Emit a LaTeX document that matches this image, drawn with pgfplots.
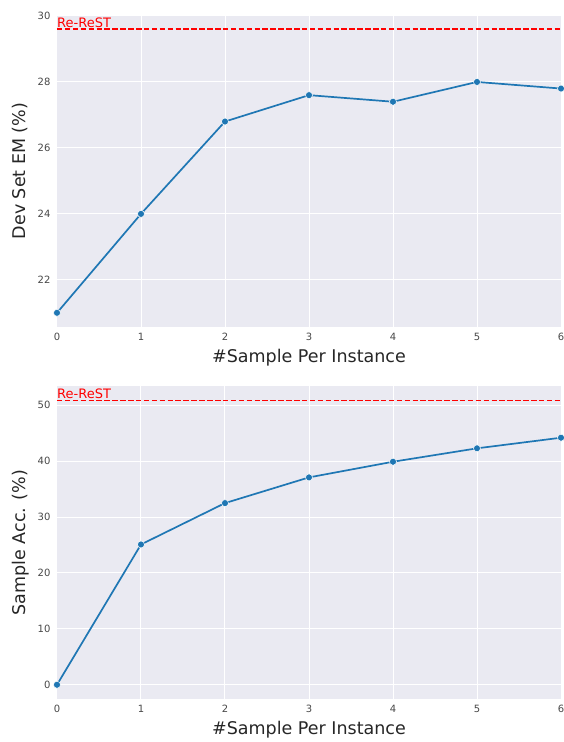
\documentclass[border=0pt]{standalone}
\usepackage{fontspec}
\setmainfont{DejaVu Sans}
\usepackage{pgfplots}
\pgfplotsset{compat=1.18}
\definecolor{sbbg}{HTML}{EAEAF2}
\definecolor{sbblue}{HTML}{1F77B4}
\definecolor{txt}{HTML}{262626}
\pgfplotsset{
  sbstyle/.style={
    scale only axis,
    width=504pt,
    xmin=0, xmax=6,
    xtick={0,1,2,3,4,5,6},
    axis background/.style={fill=sbbg},
    axis line style={draw=none},
    major tick length=0pt,
    grid=major,
    major grid style={white, line width=1pt},
    tick label style={font=\fontsize{10}{12}\selectfont, text=txt!85},
    /pgf/number format/assume math mode=true,
    xticklabel style={yshift=-3pt},
    yticklabel style={xshift=-3pt},
    label style={font=\fontsize{17.5}{20}\selectfont, text=txt},
    xlabel={\#Sample Per Instance},
    clip=false,
  }
}
\begin{document}
\begin{tikzpicture}
\path[use as bounding box] (-57pt,-415pt) rectangle (507pt,327pt);
% Top
\begin{axis}[sbstyle,
  at={(0pt,0pt)}, anchor=south west,
  height=312pt,
  ymin=20.57, ymax=30.03,
  ytick={22,24,26,28,30},
  ylabel={Dev Set EM (\%)},
  ylabel style={at={(axis description cs:-0.073,0.5)}, anchor=center},
  xlabel style={at={(axis description cs:0.5,-0.097)}, anchor=center},
]
\addplot[red, line width=1.5pt, dash pattern=on 5.5pt off 2.4pt, forget plot] coordinates {(0,29.6) (6,29.6)};
\addplot[sbblue, line width=1.7pt, mark=*, mark size=3.5pt, mark options={fill=sbblue, draw=white, line width=0.5pt}] coordinates {
(0,21.0) (1,24.0) (2,26.8) (3,27.6) (4,27.4) (5,28.0) (6,27.8)};
\node[anchor=base west, inner sep=0pt, text=red, font=\fontsize{13}{15}\selectfont] at (axis cs:0,29.6) [yshift=1.8pt] {Re-ReST};
\end{axis}
% Bottom
\begin{axis}[sbstyle,
  at={(0pt,-372pt)}, anchor=south west,
  height=313pt,
  ymin=-2.55, ymax=53.45,
  ytick={0,10,20,30,40,50},
  ylabel={Sample Acc. (\%)},
  ylabel style={at={(axis description cs:-0.073,0.5)}, anchor=center},
  xlabel style={at={(axis description cs:0.5,-0.099)}, anchor=center},
]
\addplot[red, line width=1.5pt, dash pattern=on 5.5pt off 2.4pt, forget plot] coordinates {(0,50.9) (6,50.9)};
\addplot[sbblue, line width=1.7pt, mark=*, mark size=3.5pt, mark options={fill=sbblue, draw=white, line width=0.5pt}] coordinates {
(0,0.0) (1,25.1) (2,32.5) (3,37.1) (4,39.9) (5,42.3) (6,44.2)};
\node[anchor=base west, inner sep=0pt, text=red, font=\fontsize{13}{15}\selectfont] at (axis cs:0,50.9) [yshift=1.8pt] {Re-ReST};
\end{axis}
\end{tikzpicture}
\end{document}
